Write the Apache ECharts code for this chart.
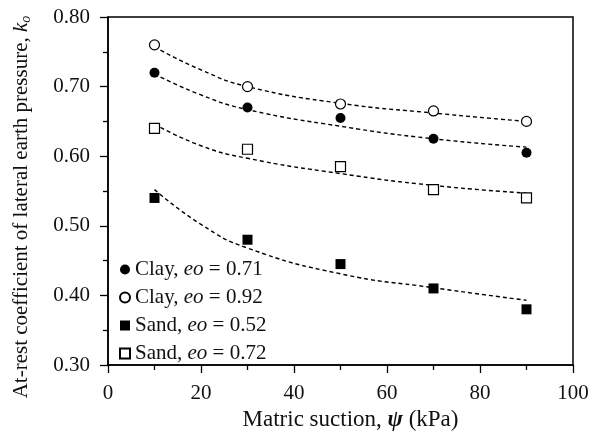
<!DOCTYPE html>
<html>
<head>
<meta charset="utf-8">
<script src="https://cdn.jsdelivr.net/npm/echarts@6/dist/echarts.min.js"></script>
<style>
  html, body { margin: 0; padding: 0; background: #fff; }
  #chart { width: 595px; height: 433px; }
</style>
</head>
<body>
<div id="chart"></div>
<script>
// Measured points: matric suction (kPa) vs. at-rest coefficient k_o
const suction = [10, 30, 50, 70, 90];
const clay071 = [0.72, 0.67, 0.655, 0.625, 0.605];
const clay092 = [0.76, 0.70, 0.675, 0.665, 0.65];
const sand052 = [0.54, 0.48, 0.445, 0.41, 0.38];
const sand072 = [0.64, 0.61, 0.585, 0.552, 0.54];

// Trend curves (dashed), sampled along each fitted line
const fitSuction = [10, 20, 30, 50, 70, 90];
const clay071Fit = [0.718, 0.688, 0.667, 0.643, 0.625, 0.613];
const clay092Fit = [0.757, 0.724, 0.700, 0.676, 0.662, 0.650];
const sand052Fit = [0.552, 0.502, 0.468, 0.431, 0.411, 0.393];
const sand072Fit = [0.646, 0.615, 0.597, 0.575, 0.558, 0.547];

const legendNames = ['Clay, eo = 0.71', 'Clay, eo = 0.92', 'Sand, eo = 0.52', 'Sand, eo = 0.72'];

const FONT = '"Liberation Serif", "DejaVu Serif", serif';
const TXT = '#111';

function pairs(xs, ys) { return xs.map((x, i) => [x, ys[i]]); }

const filled = { color: '#000', borderColor: '#000', borderWidth: 0, opacity: 1 };
const hollow = { color: '#fff', borderColor: '#000', borderWidth: 1.2, opacity: 1 };

function points(name, ys, symbol, style, size) {
  return {
    name: name, type: 'scatter', data: pairs(suction, ys),
    symbol: symbol, symbolSize: size, itemStyle: style, z: 5,
    emphasis: { disabled: true }
  };
}
function trend(ys) {
  return {
    type: 'line', data: pairs(fitSuction, ys), smooth: 0.5, showSymbol: false,
    symbol: 'none', silent: true, z: 3,
    lineStyle: { color: '#000', width: 1.4, type: [4, 3] }
  };
}

const chart = echarts.init(document.getElementById('chart'), null, { renderer: 'canvas' });
chart.setOption({
  animation: false,
  backgroundColor: '#fff',
  textStyle: { fontFamily: FONT, color: TXT },
  grid: {
    left: 108, right: 22, top: 17, bottom: 68,
    containLabel: false, outerBoundsMode: 'none',
    show: true, borderColor: '#000', borderWidth: 1.5, backgroundColor: 'transparent'
  },
  legend: {
    orient: 'vertical', left: 114, top: 254, itemGap: 7,
    itemWidth: 10, itemHeight: 10, selectedMode: false,
    data: legendNames,
    formatter: function (n) { return n.replace('eo', '{i|eo}'); },
    textStyle: {
      fontFamily: FONT, fontSize: 21, color: TXT, lineHeight: 20,
      rich: { i: { fontFamily: FONT, fontSize: 21, fontStyle: 'italic', color: TXT, lineHeight: 20 } }
    }
  },
  xAxis: {
    type: 'value', min: 0, max: 100, interval: 20,
    name: 'Matric suction, {i|ψ} (kPa)', nameLocation: 'middle', nameGap: 37,
    nameTextStyle: {
      fontFamily: FONT, fontSize: 23, color: TXT, padding: [0, 0, 0, 20],
      rich: { i: { fontFamily: FONT, fontSize: 23, fontStyle: 'italic', fontWeight: 'bold', color: TXT } }
    },
    axisLine: { show: true, onZero: false, lineStyle: { color: '#000', width: 1.5 } },
    axisTick: { show: true, length: 8, lineStyle: { color: '#000', width: 1.3 } },
    minorTick: { show: true, splitNumber: 2, length: 5, lineStyle: { color: '#000', width: 1.3 } },
    axisLabel: { fontFamily: FONT, fontSize: 21, color: TXT, margin: 18 },
    splitLine: { show: false }
  },
  yAxis: {
    type: 'value', min: 0.3, max: 0.8, interval: 0.1,
    name: 'At-rest coefficient of lateral earth pressure, {i|k}{s|o}',
    nameLocation: 'middle', nameGap: 75, nameRotate: 90,
    nameTextStyle: {
      fontFamily: FONT, fontSize: 21, color: TXT, lineHeight: 24, padding: [0, 32, 0, 0],
      rich: {
        i: { fontFamily: FONT, fontSize: 21, fontStyle: 'italic', color: TXT, lineHeight: 24 },
        s: { fontFamily: FONT, fontSize: 14, fontStyle: 'italic', color: TXT, lineHeight: 14, verticalAlign: 'bottom' }
      }
    },
    axisLine: { show: true, onZero: false, lineStyle: { color: '#000', width: 1.5 } },
    axisTick: { show: true, length: 8, lineStyle: { color: '#000', width: 1.3 } },
    minorTick: { show: true, splitNumber: 2, length: 5, lineStyle: { color: '#000', width: 1.3 } },
    axisLabel: {
      fontFamily: FONT, fontSize: 21, color: TXT, margin: 18,
      formatter: function (v) { return v.toFixed(2); }
    },
    splitLine: { show: false }
  },
  series: [
    trend(clay092Fit),
    trend(clay071Fit),
    trend(sand072Fit),
    trend(sand052Fit),
    points(legendNames[0], clay071, 'circle', filled, 10),
    points(legendNames[1], clay092, 'circle', hollow, 10),
    points(legendNames[2], sand052, 'rect', filled, 10),
    points(legendNames[3], sand072, 'rect', hollow, 10)
  ]
});
</script>
</body>
</html>
